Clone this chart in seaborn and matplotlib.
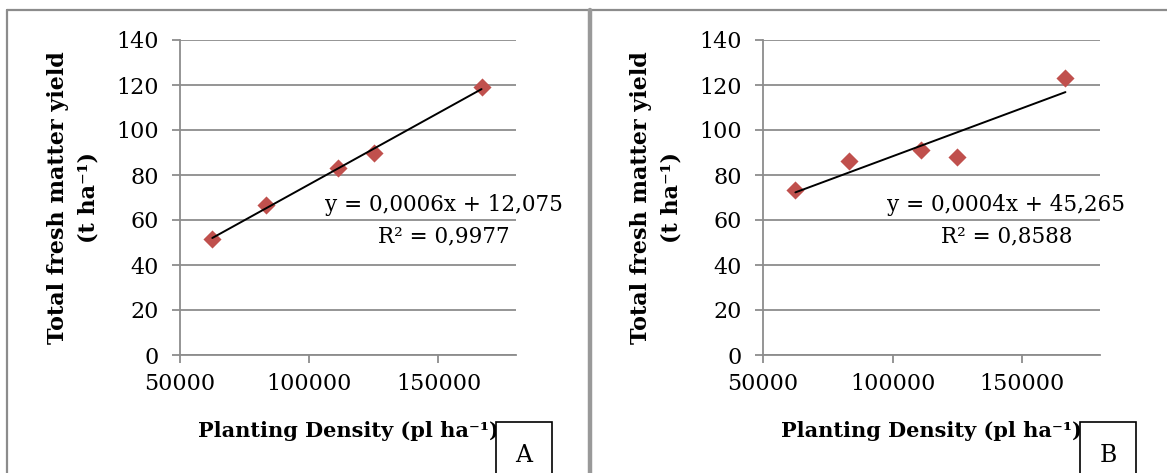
import matplotlib
matplotlib.use("Agg")
import matplotlib.pyplot as plt
from matplotlib.patches import Rectangle
from matplotlib.lines import Line2D
import seaborn as sns
import pandas as pd

# planting densities (pl/ha) and total fresh matter yield (t/ha)
density = [62500, 83333, 111111, 125000, 166667]
yield_a = [51.6, 66.6, 83.1, 89.7, 119.0]
yield_b = [73.5, 86.4, 91.3, 87.9, 123.3]
eq_a = ["y = 0,0006x + 12,075", "R\u00b2 = 0,9977"]
eq_b = ["y = 0,0004x + 45,265", "R\u00b2 = 0,8588"]
panel_tags = ["A", "B"]
y_ticks = [0, 20, 40, 60, 80, 100, 120, 140]
x_ticks = [50000, 100000, 150000]

sns.set_style("white")
plt.rcParams['font.family'] = ['DejaVu Serif']
plt.rcParams['text.color'] = 'black'
plt.rcParams['axes.labelcolor'] = 'black'

GRID = "#8c8c8c"
RED = "#c0504d"

W, H = 1167, 473
fig = plt.figure(figsize=(W / 100, H / 100), dpi=100)


def px(x0, y0, w, h):
    # pixel box (from top-left) -> figure fraction
    return [x0 / W, 1 - (y0 + h) / H, w / W, h / H]


def draw_panel(ax, yields, eq, eq_xfrac):
    df = pd.DataFrame({"density": density, "yield": yields})
    sns.regplot(data=df, x="density", y="yield", ax=ax, scatter=False, ci=None,
                truncate=True, line_kws=dict(color="black", lw=1.4, zorder=3))
    sns.scatterplot(data=df, x="density", y="yield", ax=ax, marker="D", s=85,
                    color=RED, edgecolor=RED, linewidth=0, zorder=2)
    ax.set_xlim(50000, 180000)
    ax.set_ylim(0, 140)
    ax.set_yticks(y_ticks)
    ax.set_xticks(x_ticks)
    ax.set_xticklabels([str(v) for v in x_ticks])
    ax.yaxis.grid(True, color=GRID, lw=1.3)
    ax.set_axisbelow(True)
    for s in ["top", "right"]:
        ax.spines[s].set_visible(False)
    for s in ["left", "bottom"]:
        ax.spines[s].set_color(GRID)
        ax.spines[s].set_linewidth(1.3)
    ax.tick_params(axis="both", direction="out", length=6, width=1.3, color=GRID,
                   labelcolor="black", labelsize=16, left=True, bottom=True)
    ax.tick_params(axis="y", pad=9)
    ax.tick_params(axis="x", pad=7)
    ax.set_xlabel("Planting Density (pl ha\u207b\u00b9)", fontsize=15, fontweight="bold",
                  labelpad=19)
    ax.set_ylabel("Total fresh matter yield\n(t ha\u207b\u00b9)", fontsize=16,
                  fontweight="bold", labelpad=12, linespacing=1.5)
    ax.text(eq_xfrac, 0.425, "\n".join(eq), transform=ax.transAxes, ha="center",
            va="center", fontsize=15.5, linespacing=1.55, zorder=5)


axA = fig.add_axes(px(180, 40, 336, 315))
axB = fig.add_axes(px(763, 40, 337, 315))
draw_panel(axA, yield_a, eq_a, 0.785)
draw_panel(axB, yield_b, eq_b, 0.722)

# panel frames
fig.add_artist(Line2D([7 / W, 1], [1 - 10 / H] * 2, color=GRID, lw=1.6))
fig.add_artist(Line2D([7 / W] * 2, [0, 1 - 10 / H], color=GRID, lw=1.6))
fig.add_artist(Line2D([590 / W] * 2, [0, 1 - 10 / H], color="#999999", lw=3.2))

# A / B tags
for tag, x0, w in zip(panel_tags, [496, 1080], [56, 56]):
    fig.add_artist(Rectangle((x0 / W, -0.05), w / W, 0.05 + (H - 422) / H,
                             transform=fig.transFigure, facecolor="white",
                             edgecolor="black", lw=1.2, zorder=10))
    fig.text((x0 + w / 2) / W, 1 - 455 / H, tag, ha="center", va="center",
             fontsize=17, zorder=11)

fig.savefig("out.png", dpi=100)
plt.close(fig)
